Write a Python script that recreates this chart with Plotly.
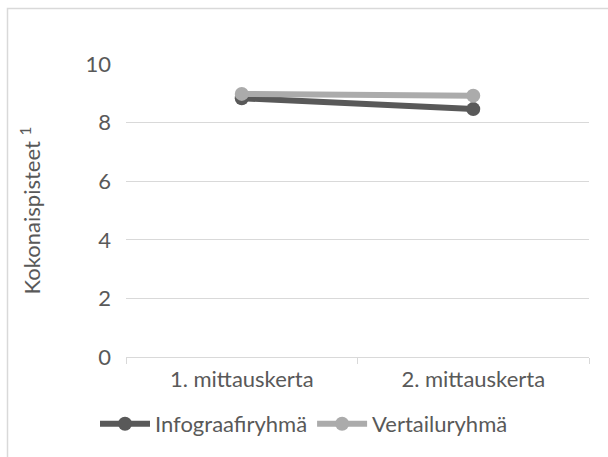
import plotly.graph_objects as go

categories = ["1. mittauskerta", "2. mittauskerta"]
infograafi = [8.83, 8.46]
vertailu = [8.98, 8.92]
y_ticks = [0, 2, 4, 6, 8, 10]

FONT = "Lato, Open Sans, sans-serif"
TXT = "#595959"
GRID = "#D9D9D9"
FS = 22

fig = go.Figure()
fig.add_trace(go.Scatter(
    x=categories, y=infograafi, name="Infograafiryhmä", mode="lines+markers",
    line=dict(color="#595959", width=6), marker=dict(size=14, color="#595959"),
))
fig.add_trace(go.Scatter(
    x=categories, y=vertailu, name="Vertailuryhmä", mode="lines+markers",
    line=dict(color="#ABABAB", width=6), marker=dict(size=14, color="#ABABAB"),
))

W, H = 608, 457
L, R, T, B = 126, 19, 64, 100
pw, ph = W - L - R, H - T - B

def px(x):
    return (x - L) / pw

def py(y):
    return (H - B - y) / ph

# chart frame
fig.add_shape(type="rect", xref="paper", yref="paper",
              x0=px(7.5), x1=px(640), y0=py(490), y1=py(8.5),
              line=dict(color=GRID, width=1.5), layer="below")

fig.update_layout(
    width=W, height=H,
    margin=dict(l=L, r=R, t=T, b=B),
    paper_bgcolor="white", plot_bgcolor="white",
    font=dict(family=FONT, size=FS, color=TXT),
    showlegend=True,
    legend=dict(orientation="h", x=px(304), xanchor="center", y=py(424), yanchor="middle",
                font=dict(size=FS, color=TXT), itemwidth=50, traceorder="normal"),
    xaxis=dict(type="category", range=[-0.5, 1.5], showgrid=False,
               showline=True, linecolor=GRID, linewidth=1,
               ticks="outside", tickson="boundaries", ticklen=6, tickcolor=GRID,
               ticklabelstandoff=3,
               tickfont=dict(size=FS, color=TXT), zeroline=False),
    yaxis=dict(range=[0, 10], tickvals=y_ticks, showgrid=True, gridcolor=GRID,
               gridwidth=1, zeroline=False, showline=False, ticks="",
               ticklabelstandoff=14,
               tickfont=dict(size=FS, color=TXT),
               title=dict(text="Kokonaispisteet <sup>1</sup>", standoff=38,
                          font=dict(size=FS, color=TXT))),
)

fig.write_html("out.html")
